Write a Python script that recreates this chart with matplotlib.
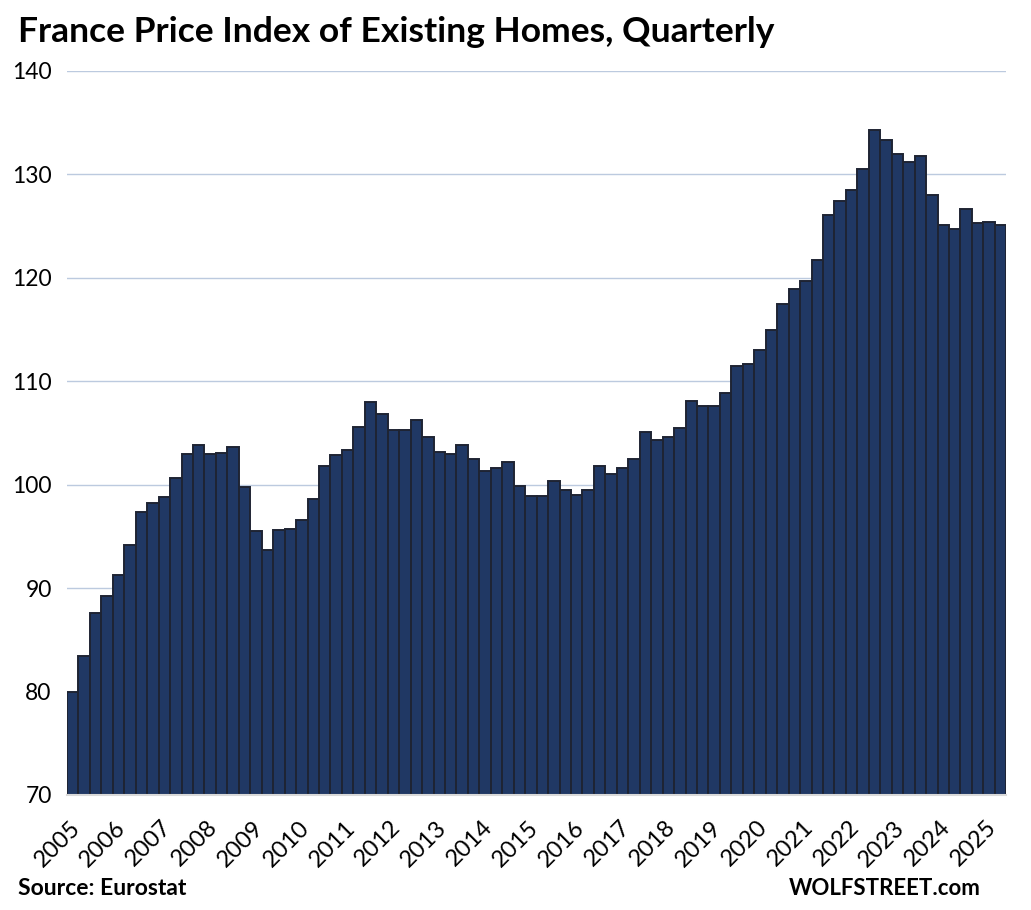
import matplotlib.pyplot as plt
import matplotlib.transforms as mtransforms
import numpy as np

plt.rcParams['font.family'] = ['Lato', 'DejaVu Sans']

# quarterly index values, 2005 Q1 .. 2025 Q2
values = [
    80.0, 83.4, 87.6, 89.2,      # 2005
    91.3, 94.2, 97.4, 98.2,      # 2006
    98.8, 100.6, 103.0, 103.8,   # 2007
    103.0, 103.1, 103.6, 99.8,   # 2008
    95.5, 93.7, 95.6, 95.7,      # 2009
    96.6, 98.6, 101.8, 102.9,    # 2010
    103.4, 105.6, 108.0, 106.8,  # 2011
    105.3, 105.3, 106.3, 104.6,  # 2012
    103.2, 103.0, 103.8, 102.5,  # 2013
    101.3, 101.6, 102.2, 99.9,   # 2014
    98.9, 98.9, 100.4, 99.5,     # 2015
    99.0, 99.5, 101.8, 101.0,    # 2016
    101.6, 102.5, 105.1, 104.3,  # 2017
    104.6, 105.5, 108.1, 107.6,  # 2018
    107.6, 108.9, 111.5, 111.7,  # 2019
    113.0, 115.0, 117.5, 118.9,  # 2020
    119.7, 121.7, 126.1, 127.4,  # 2021
    128.5, 130.5, 134.3, 133.3,  # 2022
    132.0, 131.2, 131.8, 128.0,  # 2023
    125.1, 124.7, 126.7, 125.3,  # 2024
    125.4, 125.1,                # 2025
]
years = list(range(2005, 2026))
year_labels = [str(y) for y in years]

fig = plt.figure(figsize=(10.31, 9.10), dpi=100)
ax = fig.add_axes([0.065, 0.1264, 0.911, 0.7956])

x = np.arange(len(values))
ax.bar(x, values, width=1.0, bottom=0, color='#203864', edgecolor='#1e2433', linewidth=1.4, zorder=3)

ax.set_ylim(70, 140)
ax.set_xlim(-0.5, len(values) - 0.5)
ax.set_yticks(range(70, 141, 10))
ax.yaxis.grid(True, color='#bccadf', linewidth=1.0, zorder=0)
ax.tick_params(axis='y', length=0, labelsize=16.5, pad=11)

ax.set_xticks(x[::4])
ax.set_xticklabels(year_labels, rotation=45, ha='right', va='center',
                   rotation_mode='anchor', fontsize=17)
ax.tick_params(axis='x', length=0, pad=21)
# nudge the year labels a little to the right of the bar centres
shift = mtransforms.ScaledTranslation(4 / 100, 0, fig.dpi_scale_trans)
for lab in ax.get_xticklabels():
    lab.set_transform(lab.get_transform() + shift)

for s in ['left', 'right', 'top']:
    ax.spines[s].set_visible(False)
ax.spines['bottom'].set_color('#d9d9d9')
ax.spines['bottom'].set_linewidth(1.5)
ax.spines['bottom'].set_zorder(4)

fig.text(0.017, 0.965, 'France Price Index of Existing Homes, Quarterly', fontsize=25.5,
         fontweight='bold', ha='left', va='center')
fig.text(0.017, 0.024, 'Source: Eurostat', fontsize=16.5, fontweight='bold', ha='left', va='center')
fig.text(0.951, 0.024, 'WOLFSTREET.com', fontsize=16, fontweight='bold', ha='right', va='center')

fig.savefig('out.png', dpi=100)
